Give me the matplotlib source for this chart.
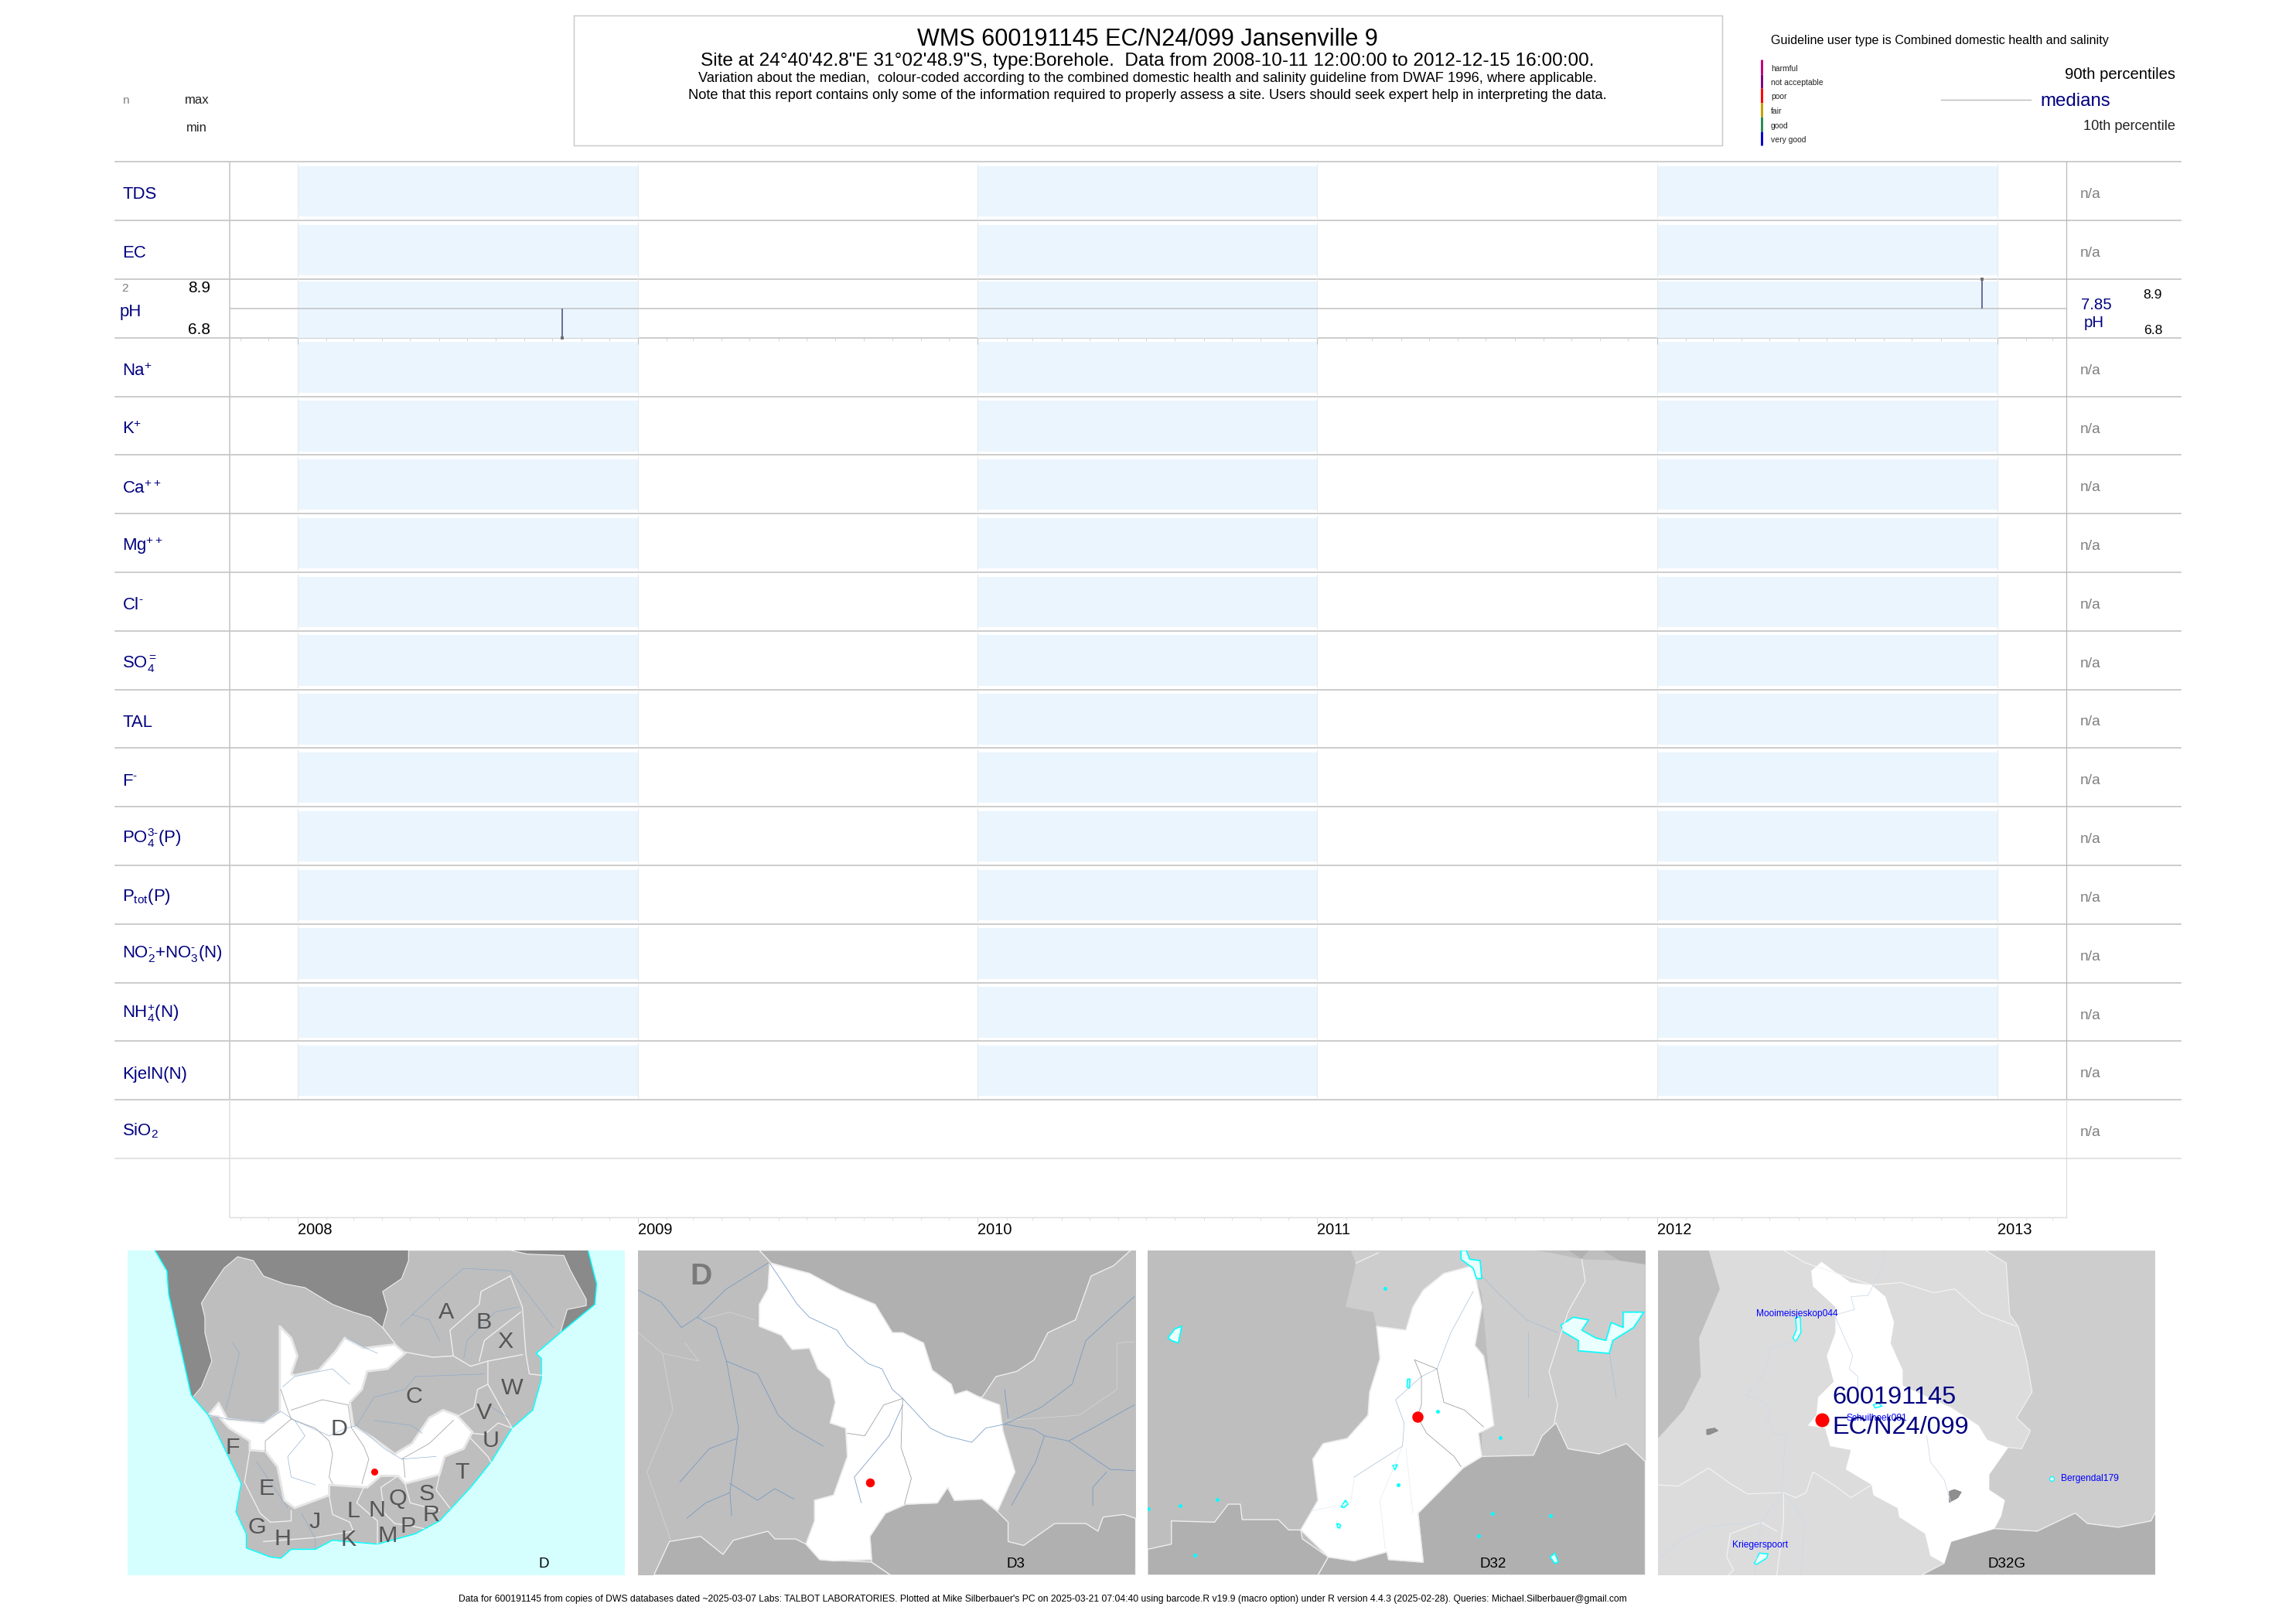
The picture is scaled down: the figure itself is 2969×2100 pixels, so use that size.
import datetime as dt
import matplotlib
matplotlib.use("Agg")
import matplotlib.pyplot as plt
import matplotlib.dates as mdates
from matplotlib.patches import Polygon, Rectangle

plt.rcParams['font.family'] = ['Liberation Sans', 'DejaVu Sans']
plt.rcParams['mathtext.fontset'] = 'custom'
plt.rcParams['mathtext.rm'] = 'Liberation Sans'
plt.rcParams['mathtext.it'] = 'Liberation Sans:italic'
plt.rcParams['mathtext.bf'] = 'Liberation Sans:bold'
plt.rcParams['mathtext.default'] = 'rm'

W, H = 2969, 2100
NAVY = '#000080'
LINE = '#c6c6c6'

# ---- chart data
variables = ['TDS', 'EC', 'pH', r'Na$^{+}$', r'K$^{+}$', r'Ca$^{++}$', r'Mg$^{++}$', 'Cl$^{\u2010}$',
             r'SO$_{4}^{=}$', 'TAL', 'F$^{\u2010}$', 'PO$_{4}^{3\u2010}$(P)', r'P$_{tot}$(P)',
             'NO$_{2}^{\u2010}$+NO$_{3}^{\u2010}$(N)', r'NH$_{4}^{+}$(N)', 'KjelN(N)', r'SiO$_{2}$']
label_baselines = [257, 333, 409, 486, 561, 638, 712, 788, 864, 940, 1016, 1090, 1165, 1238, 1316, 1395, 1468]
band_years = [2008, 2010, 2012]
year_labels = [2008, 2009, 2010, 2011, 2012, 2013]
ph_dates = [dt.datetime(2008, 10, 11, 12), dt.datetime(2012, 12, 15, 16)]
ph_values = [6.8, 8.9]
ph_median = 7.85
ph_n = 2
guideline_labels = ['harmful', 'not acceptable', 'poor', 'fair', 'good', 'very good']
guideline_colors = ['#c4007c', '#800080', '#ff0000', '#c8a000', '#2e8b57', '#0000cd']

title_lines = [
    "WMS 600191145 EC/N24/099 Jansenville 9",
    "Site at 24\u00b040'42.8\"E 31\u00b002'48.9\"S, type:Borehole.  Data from 2008-10-11 12:00:00 to 2012-12-15 16:00:00.",
    "Variation about the median,  colour-coded according to the combined domestic health and salinity guideline from DWAF 1996, where applicable.",
    "Note that this report contains only some of the information required to properly assess a site. Users should seek expert help in interpreting the data.",
]
footer = ("Data for 600191145 from copies of DWS databases dated ~2025-03-07 Labs: TALBOT LABORATORIES. "
          "Plotted at Mike Silberbauer's PC on 2025-03-21 07:04:40 using barcode.R v19.9 (macro option) "
          "under R version 4.4.3 (2025-02-28). Queries: Michael.Silberbauer@gmail.com")

# ---- map 1: southern Africa
m1_dark = [(135, 80), (170, 160), (175, 250), (195, 370), (240, 640), (245, 650), (270, 610), (300, 510), (280, 400),
           (280, 340), (270, 285), (295, 230), (335, 150), (375, 105), (420, 120), (450, 180), (510, 210), (570, 225),
           (650, 290), (710, 320), (760, 340), (795, 380), (810, 310), (795, 240), (850, 190), (870, 120), (870, 80)]
m1_dark2 = [(1165, 80), (1215, 95), (1320, 100), (1340, 160), (1385, 270), (1385, 295), (1330, 310), (1310, 400),
            (1410, 290), (1415, 210), (1390, 80)]
m1_land = [(245, 650), (290, 720), (330, 830), (385, 985), (370, 1095), (400, 1180), (400, 1235), (470, 1270), (500, 1275),
           (530, 1240), (600, 1240), (650, 1205), (780, 1220), (890, 1180), (960, 1130), (1050, 1000), (1110, 900),
           (1170, 770), (1230, 700), (1255, 580), (1255, 500), (1240, 480), (1310, 400), (1330, 310), (1385, 295),
           (1385, 270), (1340, 160), (1320, 100), (1215, 95), (1165, 80), (870, 80), (870, 120), (850, 190), (795, 240),
           (810, 310), (795, 380), (760, 340), (710, 320), (650, 290), (570, 225), (510, 210), (450, 180), (420, 120),
           (375, 105), (335, 150), (295, 230), (270, 285), (280, 340), (280, 400), (300, 510), (270, 610)]
m1_basin = [(290, 720), (320, 672), (345, 735), (450, 750), (497, 705), (497, 375), (530, 420), (548, 490), (530, 560),
            (540, 565), (610, 545), (660, 470), (685, 420), (740, 460), (830, 445), (860, 480), (810, 540), (750, 550),
            (735, 620), (700, 670), (710, 760), (770, 810), (830, 870), (880, 830), (930, 730), (970, 700), (1010, 720),
            (1055, 785), (1030, 850), (975, 880), (960, 950), (860, 985), (840, 955), (790, 955), (750, 1000), (640, 990),
            (640, 1030), (540, 1080), (510, 1050), (490, 920), (455, 860), (410, 855), (410, 820), (350, 770), (320, 725)]
m1_boundaries = [
    [(830, 440), (795, 380)],
    [(860, 475), (940, 495), (1000, 490), (1050, 530), (1100, 510), (1200, 485)],
    [(1165, 180), (1080, 240), (1075, 290), (990, 390), (1000, 490)],
    [(1165, 180), (1200, 300), (1210, 480), (1220, 560), (1255, 565)],
    [(1195, 320), (1090, 430), (1075, 510)],
    [(1100, 510), (1100, 600), (1125, 660), (1170, 770)],
    [(1100, 600), (1070, 620), (1060, 690), (1010, 725)],
    [(1055, 790), (1090, 795), (1130, 750), (1170, 770)],
    [(1050, 810), (1100, 880), (1110, 905)],
    [(960, 950), (950, 1010), (990, 1080)],
    [(860, 985), (875, 1060), (960, 1090)],
    [(840, 955), (790, 1000), (800, 1100), (830, 1140), (880, 1150), (915, 1160)],
    [(410, 855), (395, 980), (440, 1100), (470, 1135), (530, 1130), (530, 1090)],
    [(640, 1030), (650, 1105), (700, 1135), (710, 1170), (600, 1195), (450, 1210)],
    [(740, 1000), (720, 1060), (780, 1130), (780, 1220)],
]
m1_inner = [
    [(500, 620), (520, 700), (530, 735), (600, 770), (640, 820), (650, 870), (640, 960), (650, 985)],
    [(530, 735), (455, 820), (455, 860)],
    [(530, 700), (620, 660), (695, 680), (705, 770), (740, 840), (755, 890), (735, 985)],
    [(855, 890), (860, 960)],
    [(850, 890), (930, 830), (1000, 740)],
]
m1_rivers = [
    [(290, 720), (345, 735), (450, 745), (500, 705), (540, 740), (570, 800), (520, 880), (530, 960), (600, 990)],
    [(540, 740), (640, 800), (690, 770), (720, 760), (800, 850), (850, 890), (950, 880)],
    [(505, 610), (540, 570), (650, 540), (700, 600)],
    [(690, 420), (740, 455), (780, 480)],
    [(720, 760), (770, 650), (860, 620), (890, 570), (1090, 560)],
    [(770, 740), (880, 760), (910, 790)],
    [(845, 375), (960, 230), (1030, 150), (1165, 160), (1290, 380)],
    [(880, 330), (930, 350), (960, 430)],
    [(1190, 300), (1120, 320), (1040, 430), (1030, 500)],
    [(360, 440), (380, 480), (350, 650), (340, 700)],
    [(430, 900), (480, 1000), (520, 1080)],
    [(560, 1100), (600, 1200), (600, 1235)],
    [(1100, 680), (1160, 730)],
]
m1_letters = ['A', 'B', 'X', 'C', 'W', 'V', 'U', 'T', 'D', 'F', 'E', 'G', 'H', 'J', 'L', 'N', 'Q', 'S', 'R', 'P', 'K', 'M']
m1_letter_x = [980, 1088, 1150, 885, 1170, 1090, 1108, 1025, 668, 360, 458, 432, 505, 598, 710, 778, 840, 922, 935, 868, 697, 810]
m1_letter_y = [320, 360, 435, 648, 615, 710, 820, 942, 775, 845, 1005, 1155, 1200, 1135, 1092, 1090, 1045, 1025, 1108, 1152, 1203, 1188]

# ---- map 2: D3
m2_dark_top = [(385, 80), (420, 130), (530, 170), (620, 235), (700, 285), (770, 400), (860, 440), (885, 545), (940, 600),
               (950, 640), (1030, 650), (1070, 570), (1130, 550), (1180, 505), (1220, 400), (1300, 350), (1345, 180),
               (1410, 140), (1460, 80)]
m2_dark_left = [(80, 1340), (125, 1210), (215, 1190), (280, 1260), (310, 1205), (410, 1170), (430, 1200), (490, 1200),
                (520, 1220), (560, 1280), (710, 1290), (765, 1340)]
m2_dark_right = [(705, 1190), (750, 1100), (810, 1065), (900, 1060), (930, 1000), (950, 1050), (1030, 1045), (1075, 1095),
                 (1105, 1135), (1105, 1210), (1150, 1225), (1240, 1140), (1330, 1140), (1365, 1170), (1380, 1115),
                 (1440, 1105), (1474, 1120), (1474, 1340), (765, 1340), (710, 1290)]
m2_basin = [(415, 130), (410, 230), (385, 290), (385, 375), (450, 410), (480, 465), (530, 460), (555, 540), (590, 580),
            (605, 670), (590, 750), (635, 770), (640, 880), (600, 1030), (545, 1050), (545, 1130), (520, 1220), (560, 1280),
            (600, 1285), (710, 1280), (705, 1190), (750, 1100), (810, 1065), (900, 1060), (930, 1000), (950, 1050),
            (1030, 1045), (1075, 1090), (1125, 940), (1090, 780), (1080, 680), (1030, 655), (985, 625), (950, 640),
            (940, 600), (885, 545), (860, 440), (800, 400), (770, 400), (720, 290), (620, 235), (530, 170), (470, 150)]
m2_rivers = [
    [(415, 130), (455, 210), (495, 290), (530, 340), (610, 390), (640, 450), (700, 520), (740, 540), (770, 620), (800, 655),
     (880, 770), (925, 800), (1000, 825), (1040, 770), (1095, 755), (1180, 775), (1210, 800), (1280, 820), (1400, 930), (1470, 935)],
    [(35, 235), (100, 280), (160, 380), (205, 340), (290, 230), (410, 130)],
    [(205, 340), (260, 380), (290, 510), (325, 770), (300, 1020), (305, 1110)],
    [(290, 510), (380, 560), (440, 720), (480, 770), (570, 840)],
    [(320, 810), (240, 850), (155, 980)],
    [(300, 1020), (230, 1060), (175, 1120)],
    [(300, 985), (380, 1050), (430, 1005), (485, 1045)],
    [(800, 680), (760, 800), (660, 960), (680, 1060)],
    [(1095, 755), (1200, 690), (1290, 600), (1330, 430), (1470, 260)],
    [(1210, 800), (1185, 900), (1115, 1070)],
    [(1280, 820), (1350, 770), (1470, 680)],
    [(1095, 620), (1105, 730)],
    [(1390, 940), (1350, 1000), (1350, 1070)],
]
m2_inner = [
    [(800, 655), (745, 680), (690, 800), (640, 790)],
    [(800, 655), (795, 845), (825, 965), (805, 1065)],
]
m2_boundaries = [
    [(215, 350), (300, 320), (370, 350)],
    [(35, 400), (105, 480), (210, 510), (170, 440)],
    [(105, 480), (135, 700), (60, 940), (130, 1210)],
    [(1100, 740), (1310, 720), (1420, 620), (1420, 440), (1470, 435)],
]

# ---- map 3: D32
m3_light_top = [(620, 80), (635, 130), (605, 300), (685, 320), (695, 375), (780, 390), (830, 250), (890, 170), (975, 140), (975, 80)]
m3_light_right = [(970, 140), (1000, 250), (1030, 700), (1000, 790), (1000, 880), (1150, 875), (1175, 800), (1215, 750),
                  (1250, 850), (1340, 870), (1420, 830), (1474, 900), (1474, 130), (1400, 120), (1290, 115), (1200, 90),
                  (1150, 80), (975, 80)]
m3_dark_corner1 = [(1250, 80), (1310, 80), (1290, 112)]
m3_dark_corner2 = [(1350, 80), (1474, 80), (1474, 135), (1400, 120)]
m3_dark_left = [(31, 1240), (100, 1220), (100, 1130), (225, 1135), (265, 1065), (300, 1065), (305, 1125), (410, 1125),
                (440, 1165), (475, 1165), (480, 1200), (555, 1270), (525, 1340), (31, 1340)]
m3_dark_right = [(555, 1270), (630, 1285), (725, 1250), (730, 1280), (830, 1290), (815, 1100), (945, 925), (1000, 880),
                 (1150, 875), (1175, 800), (1215, 750), (1250, 850), (1340, 870), (1420, 830), (1474, 900), (1474, 1340), (525, 1340)]
m3_basin = [(975, 140), (890, 170), (830, 235), (800, 300), (780, 390), (695, 375), (705, 500), (675, 630), (670, 720),
            (610, 810), (540, 830), (510, 890), (525, 1050), (475, 1165), (555, 1270), (630, 1285), (725, 1250), (730, 1280),
            (830, 1290), (815, 1100), (945, 925), (1000, 880), (990, 790), (1035, 760), (1020, 600), (1005, 490), (980, 450), (1000, 300)]
m3_lakes = [
    [(1230, 370), (1265, 340), (1310, 350), (1290, 390), (1330, 420), (1360, 430), (1375, 360), (1410, 380), (1410, 320),
     (1470, 320), (1440, 380), (1380, 430), (1370, 480), (1280, 470), (1280, 430), (1235, 395)],
    [(940, 80), (955, 80), (965, 115), (995, 120), (1000, 190), (985, 190), (975, 150), (940, 115)],
    [(90, 420), (110, 385), (130, 375), (120, 440), (100, 430)],
    [(785, 580), (792, 580), (790, 615), (783, 610)],
    [(742, 915), (755, 912), (748, 932)],
    [(592, 1075), (605, 1050), (612, 1065), (600, 1078)],
    [(580, 1140), (590, 1145), (588, 1158), (582, 1155)],
    [(1198, 1270), (1212, 1255), (1222, 1290), (1212, 1295)],
]
m3_ponds_x = [720, 871, 1054, 1030, 1200, 990, 758, 125, 233, 167, 33]
m3_ponds_y = [228, 705, 808, 1102, 1111, 1188, 990, 1072, 1047, 1264, 1084]
m3_inner = [
    [(805, 505), (825, 570), (825, 680), (813, 725), (840, 790), (920, 880), (940, 920)],
    [(805, 505), (870, 540), (890, 670), (950, 700), (1005, 765)],
]
m3_rivers = [
    [(1000, 180), (1050, 250), (1130, 350), (1220, 400)],
    [(975, 240), (910, 400), (870, 540), (825, 570), (750, 660), (775, 750), (770, 840), (630, 960)],
    [(1135, 400), (1135, 650)],
    [(1370, 480), (1390, 650)],
]
m3_faint = [
    [(770, 840), (705, 1050), (720, 1240)],
    [(780, 850), (800, 1100)],
    [(630, 960), (620, 1060), (510, 1090)],
]
m3_boundaries = [[(1290, 115), (1300, 200), (1250, 320), (1195, 550), (1220, 680), (1210, 750)],
                 [(635, 130), (700, 90)]]

# ---- map 4: D32G
m4_left = [(31, 80), (178, 80), (210, 230), (150, 420), (155, 570), (105, 700), (31, 810)]
m4_right = [(980, 80), (1040, 130), (1050, 330), (1075, 375), (1100, 510), (1115, 630), (1070, 730), (1110, 780), (1085, 850),
            (1045, 845), (990, 950), (990, 1010), (1035, 1050), (1025, 1110), (1005, 1160), (1130, 1170), (1240, 1100),
            (1275, 1140), (1365, 1155), (1460, 1130), (1473, 1095), (1473, 80)]
m4_dark = [(795, 1340), (860, 1295), (880, 1210), (1005, 1160), (1130, 1170), (1240, 1100), (1275, 1140), (1365, 1155),
           (1460, 1130), (1473, 1095), (1473, 1340)]
m4_basin = [(505, 125), (475, 160), (480, 220), (545, 300), (545, 400), (520, 490), (540, 590), (495, 650), (490, 720), (465, 760),
            (515, 770), (530, 840), (590, 855), (575, 930), (650, 990), (655, 1030), (725, 1080), (730, 1115), (805, 1180),
            (820, 1265), (860, 1295), (880, 1210), (1005, 1160), (1025, 1110), (1035, 1050), (990, 1010), (990, 950),
            (1045, 845), (985, 815), (960, 760), (880, 690), (740, 605), (740, 545), (705, 440), (715, 360), (690, 260),
            (650, 215), (590, 205), (540, 160)]
m4_boundaries = [
    [(395, 80), (460, 130), (650, 215), (735, 205), (830, 245), (890, 230), (970, 325), (1070, 375)],
    [(31, 990), (90, 995), (178, 925), (240, 985), (290, 1025), (395, 1020), (430, 1040), (460, 1020), (480, 940), (540, 990),
     (590, 1040), (650, 990)],
    [(395, 1020), (395, 1130), (375, 1340)],
    [(330, 1135), (240, 1180), (230, 1270), (250, 1320), (235, 1340)],
    [(330, 1135), (375, 1170)],
]
m4_rivers = [
    [(685, 80), (685, 130), (640, 255), (590, 260), (600, 310), (545, 330)],
    [(440, 430), (355, 460), (340, 560), (285, 645), (340, 670), (360, 705), (345, 720), (365, 790), (400, 800), (390, 1020),
     (330, 1135), (310, 1340)],
    [(545, 340), (595, 490), (585, 540), (610, 570), (610, 680)],
    [(810, 800), (820, 900), (860, 970), (880, 1060)],
    [(395, 1020), (430, 1080), (455, 1135), (445, 1340)],
    [(330, 1135), (180, 1150), (100, 1200), (31, 1280)],
]
m4_towns = [[(172, 775), (195, 770), (205, 780), (180, 795), (172, 795)],
            [(875, 1015), (890, 1008), (910, 1018), (900, 1040), (875, 1058)]]
m4_lakes = [[(430, 340), (443, 340), (445, 400), (430, 435), (422, 420), (432, 390)],
            [(310, 1295), (325, 1255), (350, 1258), (345, 1275), (315, 1300)],
            [(655, 680), (670, 672), (680, 685), (660, 692)]]
dam_names = ['Mooimeisjeskop044', 'Schuilhoek081', 'Bergendal179', 'Kriegerspoort']
dam_x = [435, 665, 1283, 328]
dam_y = [327, 732, 965, 1224]


def px_axes(x0, y0, x1, y1):
    # axes placed with reference pixel positions
    ax = fig.add_axes([x0 / W, 1 - y1 / H, (x1 - x0) / W, (y1 - y0) / H])
    ax.patch.set_alpha(0)
    return ax


def map_axes(x0, zx0, zx1, bg):
    ax = px_axes(x0, 1616.7, x0 + 643.5, 2036.7)
    ax.set_xlim(zx0, zx1)
    ax.set_ylim(1340, 80)
    ax.set_xticks([])
    ax.set_yticks([])
    ax.patch.set_alpha(1)
    ax.set_facecolor(bg)
    for s in ax.spines.values():
        s.set_visible(False)
    return ax


def poly(ax, pts, fc, ec='none', lw=0.0):
    ax.add_patch(Polygon(pts, closed=True, facecolor=fc, edgecolor=ec, linewidth=lw, joinstyle='round'))


def lines(ax, paths, color, lw):
    for p in paths:
        ax.plot([q[0] for q in p], [q[1] for q in p], color=color, lw=lw, solid_joinstyle='round')


def dot(ax, x, y, px):
    ax.scatter([x], [y], s=(px * 0.24) ** 2, color='red', linewidths=0, zorder=8)


fig = plt.figure(figsize=(W / 300, H / 300), dpi=300, facecolor='white')

# ---- overlay in picture pixels: table lines and margins
over = px_axes(0, 0, W, H)
over.set_xlim(0, W)
over.set_ylim(H, 0)
over.axis('off')

row_top = 209.3
row_h = 75.8
n_rows = len(variables)
for i in range(n_rows + 1):
    y = row_top + i * row_h
    c = '#dedede' if i == n_rows else LINE
    over.plot([148.6, 2820], [y, y], color=c, lw=0.42, zorder=5)
over.plot([296.5, 296.5], [row_top, row_top + 16 * row_h], color=LINE, lw=0.38, zorder=5)
over.plot([296.5, 296.5], [row_top + 16 * row_h, 1574], color='#e0e0e0', lw=0.38, zorder=5)
over.plot([2672, 2672], [row_top, row_top + 16 * row_h], color='#b8b8b8', lw=0.3, zorder=5)
over.plot([2672, 2672], [row_top + 16 * row_h, 1574], color='#dedede', lw=0.3, zorder=5)

for i, lab in enumerate(variables):
    x = 155 if lab == 'pH' else 158.5
    over.text(x, label_baselines[i], lab, color=NAVY, fontsize=5.3, ha='left', va='baseline')
    if lab != 'pH':
        over.text(2690, row_top + i * row_h + 42.5, 'n/a', color='#808080', fontsize=4.6, ha='left', va='center')

over.text(163, 130, 'n', color='#808080', fontsize=3.7, ha='center', va='center')
over.text(254.5, 130, 'max', color='#222222', fontsize=4.0, ha='center', va='center')
over.text(254, 166, 'min', color='#222222', fontsize=4.0, ha='center', va='center')
over.text(162, 372.7, str(ph_n), color='#808080', fontsize=3.7, ha='center', va='center')
over.text(258, 373, str(max(ph_values)), color='black', fontsize=5.0, ha='center', va='center')
over.text(258, 426, str(min(ph_values)), color='black', fontsize=5.0, ha='center', va='center')
over.text(2690.7, 394, str(ph_median), color=NAVY, fontsize=4.9, ha='left', va='center')
over.text(2708, 417.5, 'pH', color=NAVY, fontsize=4.9, ha='center', va='center')
over.text(2784, 381.5, str(max(ph_values)), color='black', fontsize=4.2, ha='center', va='center')
over.text(2784, 427.5, str(min(ph_values)), color='black', fontsize=4.2, ha='center', va='center')

# title box
over.add_patch(Rectangle((742, 20.3), 1485, 168, facecolor='none', edgecolor='#c8c8c8', lw=0.35))
over.text(1484, 51, title_lines[0], fontsize=7.35, ha='center', va='center', color='black')
over.text(1484, 79, title_lines[1], fontsize=5.87, ha='center', va='center', color='black')
over.text(1484, 102, title_lines[2], fontsize=4.39, ha='center', va='center', color='black')
over.text(1484, 124, title_lines[3], fontsize=4.38, ha='center', va='center', color='black')

# guideline legend
over.text(2290, 52, 'Guideline user type is Combined domestic health and salinity', fontsize=3.88, ha='left', va='center')
for i, (name, col) in enumerate(zip(guideline_labels, guideline_colors)):
    top = 77 + i * 18.5
    over.plot([2277.5, 2277.5], [top, top + 18.5], color=col, lw=0.72, solid_capstyle='butt')
    over.text(2290, top + 11.5, name, fontsize=2.5, ha='left', va='center', color='#222222')
over.text(2813, 96, '90th percentiles', fontsize=4.86, ha='right', va='center', color='black')
over.text(2638, 131, 'medians', fontsize=5.75, ha='left', va='center', color=NAVY)
over.text(2813, 164, '10th percentile', fontsize=4.35, ha='right', va='center', color='#222222')
over.plot([2509.5, 2626], [129.3, 129.3], color='#bdbdbd', lw=0.35)
over.text(1348, 2068, footer, fontsize=2.93, ha='center', va='center', color='black')

# ---- time axis: bands and bottom ticks
xmin = mdates.date2num(dt.datetime(2008, 1, 1)) - (384.6 - 296.5) / 1.2033
xmax = mdates.date2num(dt.datetime(2008, 1, 1)) + (2672 - 384.6) / 1.2033
tax = px_axes(296.5, row_top, 2672, 1574)
tax.set_xlim(xmin, xmax)
tax.set_ylim(1574, row_top)
tax.xaxis_date()
for s in ['top', 'left', 'right']:
    tax.spines[s].set_visible(False)
tax.spines['bottom'].set_color('#dedede')
tax.spines['bottom'].set_linewidth(0.35)
tax.set_yticks([])
tax.xaxis.set_major_locator(mdates.YearLocator())
tax.xaxis.set_minor_locator(mdates.MonthLocator())
tax.tick_params(axis='x', which='major', length=2.0, width=0.25, color='#d8d8d8', labelbottom=False)
tax.tick_params(axis='x', which='minor', length=1.0, width=0.25, color='#e2e2e2')
for yr in year_labels:
    tax.text(mdates.date2num(dt.datetime(yr, 1, 1)), 1590.5, str(yr), fontsize=4.8, ha='left', va='center', clip_on=False)

for yr in band_years:
    d0 = mdates.date2num(dt.datetime(yr, 1, 1))
    d1 = mdates.date2num(dt.datetime(yr + 1, 1, 1))
    for i in range(16):
        top = row_top + i * row_h
        y0 = top + (3 if i == 2 else 5.7)
        y1 = top + row_h - (0 if i == 2 else 4.7)
        tax.add_patch(Rectangle((d0, y0), d1 - d0, y1 - y0, facecolor='#ebf5fe', edgecolor='none', zorder=1))
        tax.plot([d0, d0], [y0 - 3, y1 + 2], color='#e4ebf0', lw=0.28, zorder=1)
        tax.plot([d1, d1], [y0 - 3, y1 + 2], color='#e4ebf0', lw=0.28, zorder=1)

# ---- pH row
pax = px_axes(296.5, row_top + 2 * row_h, 2672, row_top + 3 * row_h)
pax.set_xlim(xmin, xmax)
pax.set_ylim(min(ph_values), max(ph_values))
pax.xaxis_date()
for s in ['top', 'left', 'right', 'bottom']:
    pax.spines[s].set_visible(False)
pax.set_yticks([])
pax.xaxis.set_major_locator(mdates.YearLocator())
pax.xaxis.set_minor_locator(mdates.MonthLocator())
pax.tick_params(axis='x', which='major', length=2.0, width=0.25, color='#c0c0c0', labelbottom=False)
pax.tick_params(axis='x', which='minor', length=1.0, width=0.22, color='#d4d4d4')
pax.axhline(ph_median, color=LINE, lw=0.4, zorder=3)
for d, v in zip(ph_dates, ph_values):
    pax.plot([d, d], [ph_median, v], color='#585c8c', lw=0.42, solid_capstyle='butt', zorder=4)
    pax.plot([d], [v], marker='s', ms=1.0, color='#707070', mew=0, clip_on=False, zorder=4)

# ---- map 1
m = map_axes(165, 56, 1498, '#d5ffff')
poly(m, m1_dark, '#8a8a8a')
poly(m, m1_dark2, '#8a8a8a')
poly(m, m1_land, '#bebebe', ec='#f0f0f0', lw=0.25)
lines(m, [m1_dark[:6] + m1_land[1:23] + m1_dark2[7:]], '#00ffff', 0.35)
poly(m, m1_basin, 'white', ec='#e6e6e6', lw=0.7)
lines(m, m1_boundaries, '#f0f0f0', 0.32)
lines(m, m1_inner, '#b4b4b4', 0.24)
lines(m, m1_rivers, '#86a8cc', 0.14)
for a, x, y in zip(m1_letters, m1_letter_x, m1_letter_y):
    m.text(x, y, a, fontsize=7.3, color='#555555', ha='center', va='center')
dot(m, 771, 938, 9)
m.text(1262, 1296, 'D', fontsize=4.5, color='black', ha='center', va='center')

# ---- map 2
m = map_axes(825, 34, 1474, '#bebebe')
poly(m, m2_dark_top, '#b0b0b0', ec='#f0f0f0', lw=0.32)
poly(m, m2_dark_left, '#b0b0b0', ec='#f0f0f0', lw=0.32)
poly(m, m2_dark_right, '#b0b0b0', ec='#f0f0f0', lw=0.32)
poly(m, m2_basin, 'white', ec='#ececec', lw=0.4)
lines(m, m2_boundaries, '#d2d2d2', 0.22)
lines(m, m2_rivers, '#6f97c3', 0.18)
lines(m, m2_inner, '#8a8a8a', 0.16)
m.text(217, 182, 'D', fontsize=9.4, fontweight='bold', color='#7a7a7a', ha='center', va='center')
dot(m, 705, 982, 11.5)
m.text(1127, 1296, 'D3', fontsize=4.5, color='black', ha='center', va='center')

# ---- map 3
m = map_axes(1484, 31, 1474, '#bebebe')
poly(m, m3_light_top, '#cdcdcd')
poly(m, m3_light_right, '#cdcdcd')
poly(m, m3_dark_corner1, '#b0b0b0')
poly(m, m3_dark_corner2, '#b0b0b0')
poly(m, m3_dark_left, '#b0b0b0', ec='#f0f0f0', lw=0.32)
poly(m, m3_dark_right, '#b0b0b0', ec='#f0f0f0', lw=0.32)
poly(m, m3_basin, 'white', ec='#ececec', lw=0.4)
lines(m, m3_boundaries, '#f0f0f0', 0.3)
lines(m, m3_faint, '#e4ecf6', 0.18)
lines(m, m3_rivers, '#a4bbd3', 0.16)
lines(m, m3_inner, '#8a8a8a', 0.16)
for lake in m3_lakes:
    poly(m, lake, '#eaffff', ec='#00ffff', lw=0.4)
m.scatter(m3_ponds_x, m3_ponds_y, s=1.4, color='#00ffff', linewidths=0, marker='o')
dot(m, 813, 725, 14.5)
m.text(1033, 1296, 'D32', fontsize=4.5, color='black', ha='center', va='center')

# ---- map 4
m = map_axes(2144, 31, 1473, '#dcdcdc')
poly(m, m4_left, '#bebebe')
poly(m, m4_right, '#cdcdcd', ec='#f2f2f2', lw=0.28)
poly(m, m4_dark, '#b0b0b0', ec='#f0f0f0', lw=0.28)
poly(m, m4_basin, 'white')
lines(m, m4_boundaries, '#f4f4f4', 0.28)
lines(m, m4_rivers, '#cfdae8', 0.2)
for town in m4_towns:
    poly(m, town, '#8f8f8f', ec='#777777', lw=0.15)
for lake in m4_lakes:
    poly(m, lake, '#eaffff', ec='#00ffff', lw=0.35)
m.scatter([1171], [965], s=2.0, color='#eaffff', edgecolors='#00ffff', linewidths=0.3)
dot(m, 507, 738, 18)
m.text(535, 652, '600191145', fontsize=7.8, color=NAVY, ha='left', va='center', zorder=9)
m.text(535, 769, 'EC/N24/099', fontsize=7.8, color=NAVY, ha='left', va='center', zorder=9)
for name, x, y in zip(dam_names, dam_x, dam_y):
    m.text(x, y, name, fontsize=2.9, color='#0000ff', ha='center', va='center', zorder=7)
m.text(1042, 1296, 'D32G', fontsize=4.5, color='black', ha='center', va='center')

fig.savefig('out.png', dpi=300)
